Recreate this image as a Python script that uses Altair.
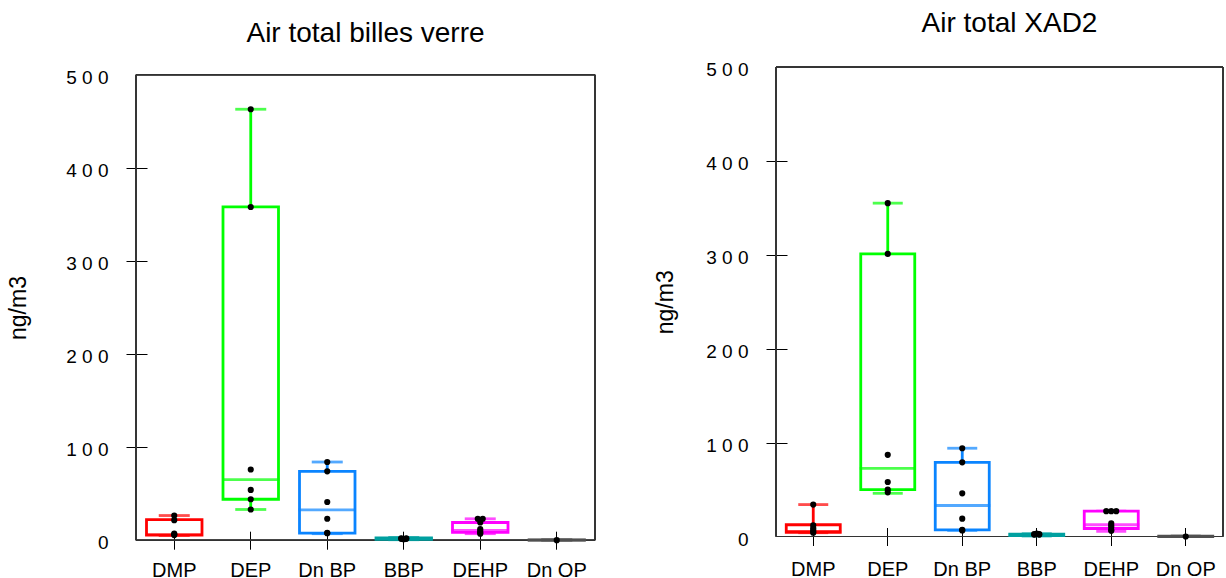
import altair as alt
import pandas as pd

FONT = "Liberation Sans"

compounds = ["DMP", "DEP", "Dn BP", "BBP", "DEHP", "Dn OP"]
colors = ["#FF0000", "#00FF00", "#0A84FF", "#00A0A0", "#FF00FF", "#505050"]
y_ticks = [0, 100, 200, 300, 400, 500]

# ---- Air total billes verre (box statistics)
bv_lower = [5.0, 33.0, 7.0, 0.5, 7.0, 0.0]
bv_q1 = [5.5, 44.0, 7.5, 1.0, 8.5, 0.0]
bv_median = [6.0, 65.0, 32.5, 1.5, 10.5, 0.0]
bv_q3 = [22.0, 358.0, 74.0, 2.5, 19.0, 0.3]
bv_upper = [26.5, 463.0, 84.0, 3.0, 23.0, 0.5]
bv_dmp = [26.5, 21.5, 7.0, 6.0, 5.5]
bv_dep = [463.0, 358.0, 76.0, 54.0, 44.0, 33.0]
bv_dnbp = [84.0, 74.0, 41.0, 23.0, 8.0, 7.5]
bv_bbp = [2.0, 2.0, 1.5, 1.5, 1.0]
bv_dehp = [23.0, 23.0, 19.0, 12.0, 10.0, 8.0, 7.0]
bv_dnop = [0.0]

# ---- Air total XAD2
xad_lower = [4.0, 46.0, 6.5, 0.5, 5.5, 0.0]
xad_q1 = [4.5, 50.0, 7.0, 1.0, 8.5, 0.0]
xad_median = [5.5, 72.5, 33.0, 2.0, 12.5, 0.0]
xad_q3 = [12.5, 301.0, 79.0, 2.5, 27.0, 0.3]
xad_upper = [34.0, 355.0, 94.0, 3.0, 27.0, 0.5]
xad_dmp = [34.0, 12.0, 9.0, 7.0, 5.0, 4.0]
xad_dep = [355.0, 301.0, 87.0, 58.0, 50.0, 47.0]
xad_dnbp = [94.0, 79.0, 46.0, 19.0, 7.0, 6.5]
xad_bbp = [3.0, 2.5, 2.5, 2.0, 2.0]
xad_dehp = [27.0, 27.0, 27.0, 14.0, 12.0, 10.0, 7.0, 6.0]
xad_dnop = [0.0]

PAD_INNER = 0.275


def stats_frame(lo, q1, med, q3, hi):
    return pd.DataFrame({"c": compounds, "lo": lo, "q1": q1, "med": med, "q3": q3, "hi": hi})


def points_frame(groups):
    rows = []
    for name, vals in zip(compounds, groups):
        for v in vals:
            rows.append({"c": name, "v": v})
    return pd.DataFrame(rows)


def panel(title, stats, pts, width, view_h, top_gap, box_w, cap_w,
          title_offset, title_dx, x_label_pad, ytitle_pad):
    xs = alt.Scale(domain=compounds, paddingInner=PAD_INNER, paddingOuter=PAD_INNER / 2)
    ys = alt.Scale(domain=[0, 500], nice=False, zero=True, range=[view_h, top_gap])
    col = alt.Color("c:N", scale=alt.Scale(domain=compounds, range=colors), legend=None)
    x_axis = alt.Axis(title=None, domain=False, grid=False, labelAngle=0,
                      labelFont=FONT, labelFontSize=20, labelColor="black",
                      tickColor="black", tickSize=18, offset=-9, labelPadding=x_label_pad)
    y_axis = alt.Axis(title="ng/m3", values=y_ticks, domain=False, grid=False,
                      labelExpr="join(split(datum.label, ''), ' ')",
                      labelFont=FONT, labelFontSize=19, labelColor="black", labelOffset=2.5,
                      tickSize=21, offset=-11, labelPadding=18,
                      tickColor={"condition": {"test": "datum.value == 0 || datum.value == 500",
                                               "value": "transparent"}, "value": "black"},
                      titleFont=FONT, titleFontSize=23, titleFontWeight="normal",
                      titleColor="black", titlePadding=ytitle_pad)
    base = alt.Chart(stats)
    x = alt.X("c:N", scale=xs, axis=x_axis, sort=compounds)
    sw = 2.8
    half_band = width / len(compounds) * (1 - PAD_INNER) / 2
    frame = base.mark_rect(fillOpacity=0, stroke="#333333", strokeWidth=1).encode(
        x=alt.value(0), x2=alt.value(width), y=alt.value(top_gap), y2=alt.value(view_h))
    whisk_hi = base.mark_rule(strokeWidth=sw).encode(
        x=x, y=alt.Y("q3:Q", scale=ys, axis=y_axis), y2="hi:Q", color=col)
    whisk_lo = base.mark_rule(strokeWidth=sw).encode(x=x, y="lo:Q", y2="q1:Q", color=col)
    cap_hi = base.mark_tick(thickness=sw, size=cap_w).encode(x=x, y="hi:Q", color=col)
    cap_lo = base.mark_tick(thickness=sw, size=cap_w).encode(x=x, y="lo:Q", color=col)
    box = base.mark_bar(fill="white", strokeWidth=sw, size=box_w).encode(
        x=x, y="q1:Q", y2="q3:Q",
        stroke=alt.Stroke("c:N", scale=alt.Scale(domain=compounds, range=colors), legend=None))
    med = base.mark_tick(thickness=sw, size=box_w + 2).encode(x=x, y="med:Q", color=col)
    # identical values are dodged side by side, as in the original strip plot
    dots = alt.Chart(pts).transform_window(
        rk="row_number()", groupby=["c", "v"], frame=[None, None]
    ).transform_joinaggregate(
        n="count()", groupby=["c", "v"]
    ).transform_calculate(
        dx=f"{half_band} + (datum.rk - (datum.n + 1) / 2) * 5"
    ).mark_circle(size=38, color="black", opacity=1).encode(
        x=x, y="v:Q", xOffset=alt.XOffset("dx:Q", scale=None))
    return alt.layer(frame, whisk_hi, whisk_lo, cap_hi, cap_lo, box, med, dots).properties(
        width=width, height=view_h,
        view=alt.ViewBackground(stroke=None),
        title=alt.TitleParams(title, font=FONT, fontSize=28, fontWeight="normal", color="black",
                              anchor="middle", offset=title_offset, dx=title_dx, frame="group"),
    )


left = panel("Air total billes verre",
             stats_frame(bv_lower, bv_q1, bv_median, bv_q3, bv_upper),
             points_frame([bv_dmp, bv_dep, bv_dnbp, bv_bbp, bv_dehp, bv_dnop]),
             459, 473.2, 7.8, 55.5, 31, 19, 0, 11.5, 35)
right = panel("Air total XAD2",
              stats_frame(xad_lower, xad_q1, xad_median, xad_q3, xad_upper),
              points_frame([xad_dmp, xad_dep, xad_dnbp, xad_bbp, xad_dehp, xad_dnop]),
              447, 469.5, 0, 54, 30, 23, 10, 14, 28)

chart = alt.hconcat(left, right, spacing=58).configure_view(
    stroke=None
).properties(padding={"left": 7, "top": 9, "right": 0, "bottom": 0}, background="white")

chart.save("out.html", embed_options={"renderer": "svg", "actions": False})
